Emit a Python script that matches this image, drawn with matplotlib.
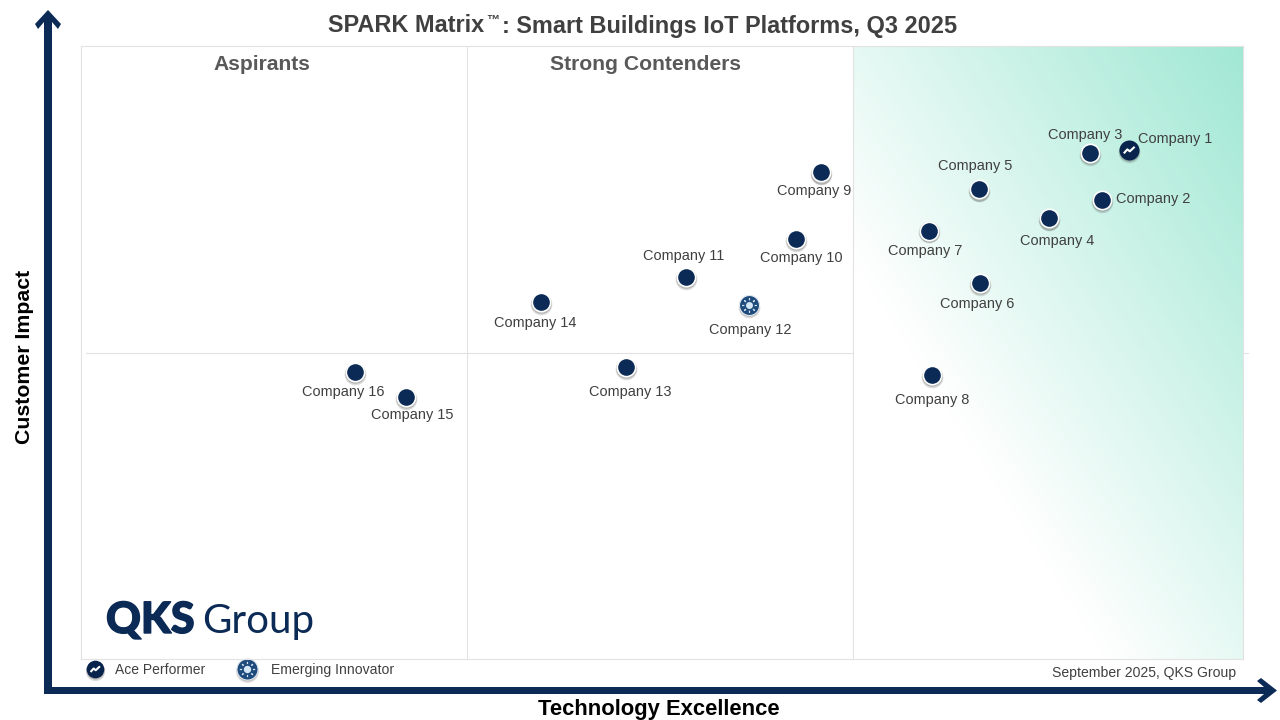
import numpy as np
import matplotlib
matplotlib.use("Agg")
import matplotlib.pyplot as plt
import matplotlib.patheffects as pe
import matplotlib.transforms as mtrans
from matplotlib.patches import Polygon

plt.rcParams['font.family'] = ['Liberation Sans', 'DejaVu Sans']

# scores, 0-100 on both axes
companies = ["Company 1", "Company 2", "Company 3", "Company 4", "Company 5", "Company 6",
             "Company 7", "Company 8", "Company 9", "Company 10", "Company 11", "Company 12",
             "Company 13", "Company 14", "Company 15", "Company 16"]
tech_excellence = [90.2, 87.9, 86.8, 83.3, 77.3, 77.4, 73.0, 73.2, 63.7, 61.5, 52.1, 57.5, 46.9, 39.6, 28.0, 23.6]
customer_impact = [83.0, 74.9, 82.6, 71.9, 76.6, 61.3, 69.9, 46.4, 79.4, 68.5, 62.3, 57.8, 47.7, 58.2, 42.7, 46.8]
badges = {"Company 1": "ace", "Company 12": "emerging"}
quadrants = ["Aspirants", "Strong Contenders", "SPARK Leaders"]

# label offsets from the marker, in pixels (right, down)
label_offsets = [(46, -11), (51, -1), (-4, -18), (8, 23), (-4, -23), (-3, 21), (-4, 20), (1, 25),
                 (-7, 19), (6, 19), (-2.5, -21), (1, 25), (4.5, 25), (-6, 21), (6, 18), (-12, 20)]

NAVY = "#0b2a55"
GREY = "#404040"
W, H = 1280, 720
L, R, T, B = 81, 1243, 46, 659

fig = plt.figure(figsize=(W / 100, H / 100), dpi=100)

# page layer in pixel coordinates, for the arrows and loose text
page = fig.add_axes([0, 0, 1, 1])
page.set_xlim(0, W)
page.set_ylim(H, 0)
page.axis("off")

ax = fig.add_axes([L / W, 1 - B / H, (R - L) / W, (B - T) / H])
ax.set_xlim(0, 100)
ax.set_ylim(0, 100)
ax.set_xticks([])
ax.set_yticks([])
ax.patch.set_alpha(0)
for s in ax.spines.values():
    s.set_color("#e2e2e2")
    s.set_linewidth(0.8)

# --- Leaders gradient, runs diagonally from the top right corner ---
x_mid = (853 - L) / (R - L) * 100
gx, gy = np.meshgrid(np.linspace(1, 0, 300), np.linspace(0, 1, 400))
t = np.clip((gx + gy) / 1.35, 0, 1)
rgba = np.ones((400, 300, 4))
for i, c in enumerate((0.63, 0.91, 0.83)):
    rgba[..., i] = c + (1 - c) * t
ax.imshow(rgba, extent=(x_mid, 100, 0, 100), origin="upper", aspect="auto", zorder=0)

# --- Quadrant lines ---
x_mid2 = (467 - L) / (R - L) * 100
for xv in (x_mid2, x_mid):
    ax.axvline(xv, color="#e2e2e2", lw=0.8, zorder=1)
page.plot([86, 1248], [353, 353], color="#e2e2e2", lw=0.8, zorder=1)

for name, cx in zip(quadrants, (262, 646, 1040)):
    page.text(cx, 64, name, ha="center", va="center", fontsize=15.2, fontweight="bold", color="#595959")


def draw_icon(a, x, y, kind, size):
    # navy dot with white ring and soft shadow, zigzag or bulb on top for the badges
    tr = a.transData
    for off, alpha, grow in ((1.4, 0.2, 2.4), (0.9, 0.3, 1.6)):
        a.plot([x], [y], "o", ms=size + grow, mfc="#555555", mec="none", alpha=alpha, zorder=3.5, clip_on=False,
               snap=False, transform=tr + mtrans.ScaledTranslation(0, -off / 72, fig.dpi_scale_trans))
    if kind == "ace":
        a.plot([x], [y], "o", ms=size + 1.2, mfc="#08244d", mec="none", zorder=4, clip_on=False, snap=False)
        a.plot([x], [y], marker=[(-4, -2), (-1.5, 0.8), (0.2, -0.6), (3.6, 2.6)], ms=size * 0.62, mfc="none",
               mec="white", mew=1.5, ls="", zorder=5, clip_on=False, snap=False)
    elif kind == "emerging":
        a.plot([x], [y], "o", ms=size + 1.2, mfc="#1f4a7c", mec="#dfe7ef", mew=0.8, zorder=4, clip_on=False, snap=False)
        a.plot([x], [y], marker=(8, 2, 0), ms=size * 0.78, mec="#d5e6f5", mew=0.8, ls="", zorder=4.5,
               clip_on=False, snap=False)
        a.plot([x], [y], "o", ms=size * 0.56, mfc="#1f4a7c", mec="none", zorder=4.6, clip_on=False, snap=False)
        a.plot([x], [y], "o", ms=size * 0.38, mfc="#d5e6f5", mec="none", zorder=5, clip_on=False, snap=False)
    else:
        a.plot([x], [y], "o", ms=size, mfc=NAVY, mec="white", mew=1.2, zorder=4, clip_on=False, snap=False)


# --- Vendors ---
for name, xv, yv, (dx, dy) in zip(companies, tech_excellence, customer_impact, label_offsets):
    draw_icon(ax, xv, yv, badges.get(name), 13.2)
    ax.annotate(name, (xv, yv), xytext=(dx * 0.72, -dy * 0.72), textcoords="offset points",
                ha="center", va="center", fontsize=10.47, color=GREY, zorder=6)

# --- Axis arrows ---
page.add_patch(Polygon([(44, 694), (44, 22), (38, 29), (35, 24), (48, 10), (61, 24), (58, 29), (52, 22), (52, 687),
                        (1264, 687), (1257, 681), (1261, 678), (1277, 690.5), (1261, 703), (1257, 700),
                        (1264, 694)], closed=True, fc=NAVY, ec="none", zorder=3))

# title in pieces so the trademark sign sits small and raised
page.text(328, 26, "SPARK Matrix", ha="left", va="center", fontsize=16.95, fontweight="bold", color=GREY)
page.text(486, 21, "\u2122", ha="left", va="center", fontsize=9.5, fontweight="bold", color=GREY)
page.text(957, 26, ": Smart Buildings IoT Platforms, Q3 2025", ha="right", va="center",
          fontsize=16.9, fontweight="bold", color=GREY)
page.text(25, 357, "Customer Impact", rotation=90, ha="center", va="center", fontsize=15.3, fontweight="bold", color="black")
page.text(658.5, 709, "Technology Excellence", ha="center", va="center", fontsize=15.8, fontweight="bold", color="black")

# --- Legend and footer ---
draw_icon(page, 95, 669, "ace", 11.5)
page.text(115, 670, "Ace Performer", ha="left", va="center", fontsize=10, color=GREY)
draw_icon(page, 247, 669, "emerging", 14)
page.text(271, 670, "Emerging Innovator", ha="left", va="center", fontsize=10.05, color=GREY)
page.text(1236, 673, "September 2025, QKS Group", ha="right", va="center", fontsize=10.05, color=GREY)

# --- Logo ---
page.text(106, 620, "QKS", ha="left", va="center", fontsize=31, fontweight="black", family="Lato", color=NAVY,
          path_effects=[pe.withStroke(linewidth=1.0, foreground=NAVY)])
page.text(202, 621, "Group", ha="left", va="center", fontsize=29, fontweight="regular", family="Lato", color=NAVY)

fig.savefig("out.png", dpi=100)
plt.close(fig)
